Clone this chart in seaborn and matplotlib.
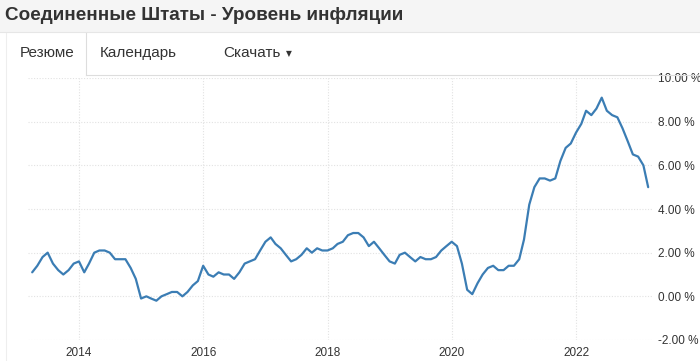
import numpy as np
import pandas as pd
import matplotlib
matplotlib.use("Agg")
import matplotlib.pyplot as plt
import matplotlib.patches as mpatches
import matplotlib.lines as mlines
import seaborn as sns

# ---- data (US CPI YoY, %) ----
start_month = "2013-04"
values = [
    1.1, 1.4, 1.8, 2.0, 1.5, 1.2, 1.0, 1.2, 1.5,                      # 2013 Apr-Dec
    1.6, 1.1, 1.5, 2.0, 2.1, 2.1, 2.0, 1.7, 1.7, 1.7, 1.3, 0.8,       # 2014
    -0.1, 0.0, -0.1, -0.2, 0.0, 0.1, 0.2, 0.2, 0.0, 0.2, 0.5, 0.7,    # 2015
    1.4, 1.0, 0.9, 1.1, 1.0, 1.0, 0.8, 1.1, 1.5, 1.6, 1.7, 2.1,       # 2016
    2.5, 2.7, 2.4, 2.2, 1.9, 1.6, 1.7, 1.9, 2.2, 2.0, 2.2, 2.1,       # 2017
    2.1, 2.2, 2.4, 2.5, 2.8, 2.9, 2.9, 2.7, 2.3, 2.5, 2.2, 1.9,       # 2018
    1.6, 1.5, 1.9, 2.0, 1.8, 1.6, 1.8, 1.7, 1.7, 1.8, 2.1, 2.3,       # 2019
    2.5, 2.3, 1.5, 0.3, 0.1, 0.6, 1.0, 1.3, 1.4, 1.2, 1.2, 1.4,       # 2020
    1.4, 1.7, 2.6, 4.2, 5.0, 5.4, 5.4, 5.3, 5.4, 6.2, 6.8, 7.0,       # 2021
    7.5, 7.9, 8.5, 8.3, 8.6, 9.1, 8.5, 8.3, 8.2, 7.7, 7.1, 6.5,       # 2022
    6.4, 6.0, 5.0,                                                    # 2023 Jan-Mar
]
xtick_years = [2014, 2016, 2018, 2020, 2022]
ytick_values = [-2, 0, 2, 4, 6, 8, 10]
title = "Соединенные Штаты - Уровень инфляции"
tabs = ["Резюме", "Календарь", "Скачать"]

dates = pd.date_range(start=start_month, periods=len(values), freq="MS")
df = pd.DataFrame({"date": dates, "value": values})

W, H = 700, 361
fig = plt.figure(figsize=(W / 100, H / 100), dpi=100)
fig.patch.set_facecolor("white")

def fx(px):
    return px / W

def fy(py):
    return 1 - py / H

# header background
fig.patches.append(mpatches.Rectangle((0, fy(32)), 1, 32 / H, transform=fig.transFigure,
                                      facecolor="#f5f5f5", edgecolor="none", zorder=0))
fig.lines.append(mlines.Line2D([0, 1], [fy(32), fy(32)], transform=fig.transFigure,
                               color="#e6e6e6", lw=0.8))
# tab borders
border = "#dddddd"
fig.lines.append(mlines.Line2D([fx(5.5), fx(5.5)], [fy(33), 0], transform=fig.transFigure, color="#eeeeee", lw=0.8))
fig.lines.append(mlines.Line2D([fx(85.5), fx(85.5)], [fy(33), fy(75)], transform=fig.transFigure, color=border, lw=0.8))
fig.lines.append(mlines.Line2D([fx(85.5), 1], [fy(75), fy(75)], transform=fig.transFigure, color=border, lw=0.8))

fig.text(fx(5), fy(15), title, fontsize=13.6, fontweight="bold", color="#333333",
         family="Liberation Sans", va="center", ha="left")
tab_x = [20, 100, 223]
for t, x in zip(tabs, tab_x):
    fig.text(fx(x), fy(53), t, fontsize=11, color="#333333", family="Liberation Sans",
             va="center", ha="left")
fig.text(fx(286), fy(54), "▼", fontsize=5.5, color="#333333", family="DejaVu Sans",
         va="center", ha="left")

# plot area
x_left, x_right = 28, 652
y_top, y_bot = 78, 340
ax = fig.add_axes([fx(x_left), fy(y_bot), (x_right - x_left) / W, (y_bot - y_top) / H])
ax.set_facecolor("none")

sns.lineplot(data=df, x="date", y="value", ax=ax, color="#3b7db4", linewidth=1.6)
for ln in ax.lines:
    ln.set_solid_joinstyle("round")
    ln.set_solid_capstyle("round")

# x limits from pixel mapping: 2014 at x=79, 2022 at x=576
px_per_year = (576 - 79) / 8
left_year = 2014 - (79 - x_left) / px_per_year
right_year = 2022 + (x_right - 576) / px_per_year

def year_to_date(y):
    base = int(np.floor(y))
    frac = y - base
    d0 = pd.Timestamp(f"{base}-01-01")
    d1 = pd.Timestamp(f"{base + 1}-01-01")
    return d0 + (d1 - d0) * frac

ax.set_xlim(year_to_date(left_year), year_to_date(right_year))
ax.set_ylim(-2, 10)

ax.set_xticks([pd.Timestamp(f"{y}-01-01") for y in xtick_years])
ax.set_xticklabels([str(y) for y in xtick_years])
ax.set_yticks(ytick_values)
ax.set_yticklabels([f"{v:.2f} %" for v in ytick_values])
ax.yaxis.tick_right()
ax.tick_params(axis="both", length=0, labelsize=8.5, labelcolor="#333333")
ax.tick_params(axis="y", pad=4)
ax.tick_params(axis="x", pad=5)
for lab in ax.get_xticklabels() + ax.get_yticklabels():
    lab.set_family("Liberation Sans")

ax.grid(True, color="#e2e2e2", linestyle=(0, (1, 1.5)), linewidth=0.8)
ax.set_axisbelow(True)
for s in ax.spines.values():
    s.set_visible(False)
ax.set_xlabel("")
ax.set_ylabel("")

fig.savefig("out.png", dpi=100)
